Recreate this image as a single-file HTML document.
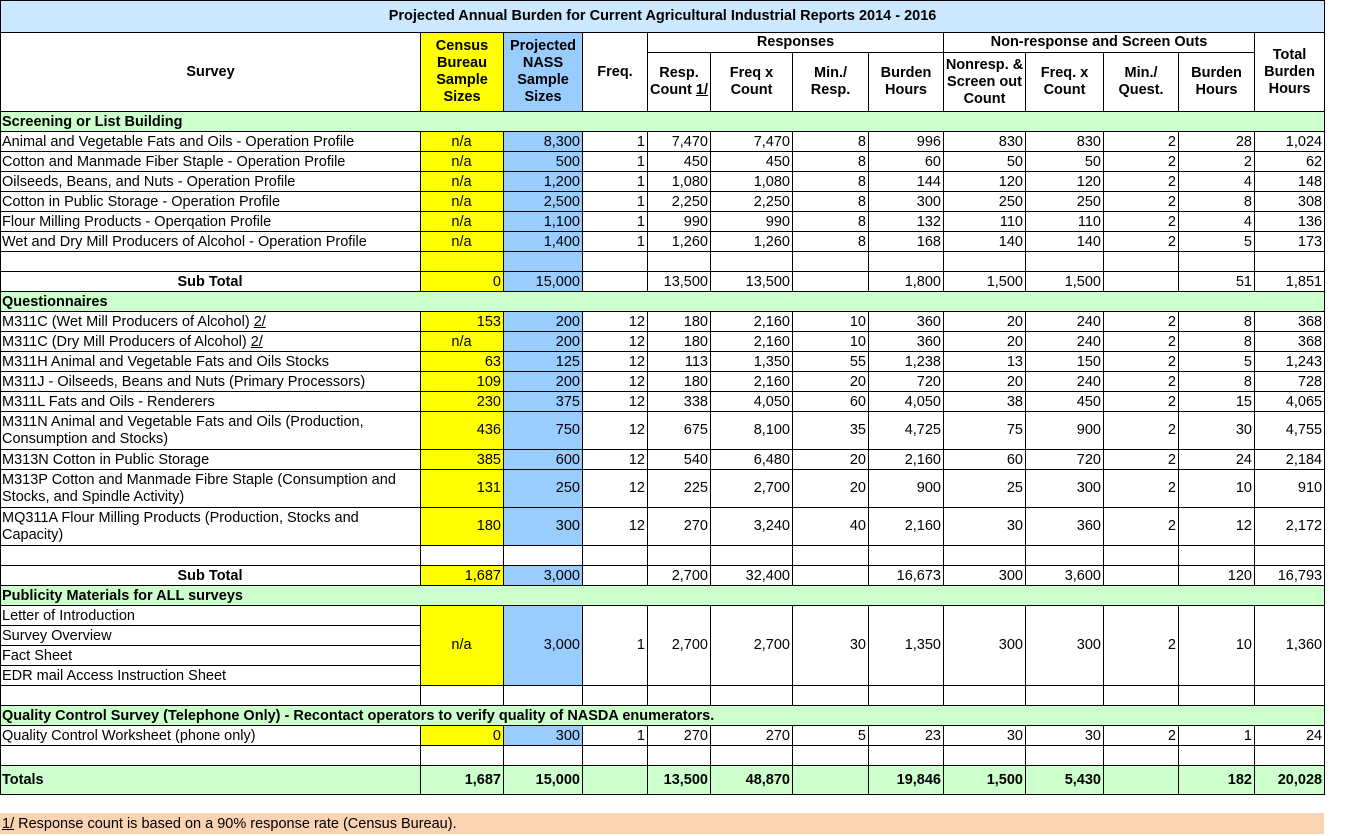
<!DOCTYPE html><html><head><style>
body{margin:0;background:#fff;font-family:"Liberation Sans",sans-serif;font-size:14.5px;}
table{position:absolute;left:0;top:0;border-collapse:collapse;table-layout:fixed;width:1324px;}
td{border:1px solid #000;padding:0 2px 0 1px;text-align:right;white-space:nowrap;overflow:hidden;line-height:17px;vertical-align:bottom}
td.l{text-align:left;white-space:normal}
td.c{text-align:center}
td[rowspan]{vertical-align:middle}
.m td{vertical-align:middle}
.y{background:#ffff00}.b{background:#99ccff}
.h td{font-weight:bold;text-align:center;white-space:normal;padding:0 3px;vertical-align:middle}
.s td{background:#ccffcc;font-weight:bold;text-align:left;border-left:none;border-right:none}
.s td:first-child{border-left:1px solid #000}.s td:last-child{border-right:1px solid #000}
tr{height:20px}
.t td{background:#ccffcc;font-weight:bold;vertical-align:middle}
.foot{position:absolute;left:0;top:813px;width:1324px;height:21px;background:#fad3b3;font-size:14.5px;line-height:22px;padding-left:2px;box-sizing:border-box}
</style></head><body>
<table>
<colgroup><col style="width:420px"><col style="width:83px"><col style="width:79px"><col style="width:65px"><col style="width:63px"><col style="width:82px"><col style="width:76px"><col style="width:75px"><col style="width:82px"><col style="width:78px"><col style="width:75px"><col style="width:76px"><col style="width:70px"></colgroup>
<tr class="h" style="height:32px"><td colspan="13" style="background:#cce8ff">Projected Annual Burden for Current Agricultural Industrial Reports 2014 - 2016</td></tr>
<tr class="h" style="height:20px"><td rowspan="2">Survey</td><td rowspan="2" class="y">Census Bureau Sample Sizes</td><td rowspan="2" class="b">Projected NASS Sample Sizes</td><td rowspan="2">Freq.</td><td colspan="4">Responses</td><td colspan="4">Non-response and Screen Outs</td><td rowspan="2">Total Burden Hours</td></tr>
<tr class="h" style="height:59px"><td style="padding:0">Resp. Count <u>1/</u></td><td>Freq x Count</td><td style="padding:0 12px">Min./ Resp.</td><td>Burden Hours</td><td style="padding:0">Nonresp. &amp; Screen out Count</td><td>Freq. x Count</td><td style="padding:0 12px">Min./ Quest.</td><td>Burden Hours</td></tr>
<tr class="s"><td colspan="13">Screening or List Building</td></tr>
<tr><td class="l">Animal and Vegetable Fats and Oils - Operation Profile</td><td class="y c">n/a</td><td class="b">8,300</td><td>1</td><td>7,470</td><td>7,470</td><td>8</td><td>996</td><td>830</td><td>830</td><td>2</td><td>28</td><td>1,024</td></tr>
<tr><td class="l">Cotton and Manmade Fiber Staple - Operation Profile</td><td class="y c">n/a</td><td class="b">500</td><td>1</td><td>450</td><td>450</td><td>8</td><td>60</td><td>50</td><td>50</td><td>2</td><td>2</td><td>62</td></tr>
<tr><td class="l">Oilseeds, Beans, and Nuts - Operation Profile</td><td class="y c">n/a</td><td class="b">1,200</td><td>1</td><td>1,080</td><td>1,080</td><td>8</td><td>144</td><td>120</td><td>120</td><td>2</td><td>4</td><td>148</td></tr>
<tr><td class="l">Cotton in Public Storage - Operation Profile</td><td class="y c">n/a</td><td class="b">2,500</td><td>1</td><td>2,250</td><td>2,250</td><td>8</td><td>300</td><td>250</td><td>250</td><td>2</td><td>8</td><td>308</td></tr>
<tr><td class="l">Flour Milling Products - Operqation Profile</td><td class="y c">n/a</td><td class="b">1,100</td><td>1</td><td>990</td><td>990</td><td>8</td><td>132</td><td>110</td><td>110</td><td>2</td><td>4</td><td>136</td></tr>
<tr><td class="l">Wet and Dry Mill Producers of Alcohol - Operation Profile</td><td class="y c">n/a</td><td class="b">1,400</td><td>1</td><td>1,260</td><td>1,260</td><td>8</td><td>168</td><td>140</td><td>140</td><td>2</td><td>5</td><td>173</td></tr>
<tr><td></td><td class="y"></td><td class="b"></td><td></td><td></td><td></td><td></td><td></td><td></td><td></td><td></td><td></td><td></td></tr>
<tr><td class="c"><b>Sub Total</b></td><td class="y">0</td><td class="b">15,000</td><td></td><td>13,500</td><td>13,500</td><td></td><td>1,800</td><td>1,500</td><td>1,500</td><td></td><td>51</td><td>1,851</td></tr>
<tr class="s"><td colspan="13">Questionnaires</td></tr>
<tr><td class="l">M311C (Wet Mill Producers of Alcohol) <u>2/</u></td><td class="y">153</td><td class="b">200</td><td>12</td><td>180</td><td>2,160</td><td>10</td><td>360</td><td>20</td><td>240</td><td>2</td><td>8</td><td>368</td></tr>
<tr><td class="l">M311C (Dry Mill Producers of Alcohol) <u>2/</u></td><td class="y c">n/a</td><td class="b">200</td><td>12</td><td>180</td><td>2,160</td><td>10</td><td>360</td><td>20</td><td>240</td><td>2</td><td>8</td><td>368</td></tr>
<tr><td class="l">M311H Animal and Vegetable Fats and Oils Stocks</td><td class="y">63</td><td class="b">125</td><td>12</td><td>113</td><td>1,350</td><td>55</td><td>1,238</td><td>13</td><td>150</td><td>2</td><td>5</td><td>1,243</td></tr>
<tr><td class="l">M311J - Oilseeds, Beans and Nuts (Primary Processors)</td><td class="y">109</td><td class="b">200</td><td>12</td><td>180</td><td>2,160</td><td>20</td><td>720</td><td>20</td><td>240</td><td>2</td><td>8</td><td>728</td></tr>
<tr><td class="l">M311L Fats and Oils - Renderers</td><td class="y">230</td><td class="b">375</td><td>12</td><td>338</td><td>4,050</td><td>60</td><td>4,050</td><td>38</td><td>450</td><td>2</td><td>15</td><td>4,065</td></tr>
<tr class="m" style="height:38px"><td class="l">M311N Animal and Vegetable Fats and Oils (Production, Consumption and Stocks)</td><td class="y">436</td><td class="b">750</td><td>12</td><td>675</td><td>8,100</td><td>35</td><td>4,725</td><td>75</td><td>900</td><td>2</td><td>30</td><td>4,755</td></tr>
<tr><td class="l">M313N Cotton in Public Storage</td><td class="y">385</td><td class="b">600</td><td>12</td><td>540</td><td>6,480</td><td>20</td><td>2,160</td><td>60</td><td>720</td><td>2</td><td>24</td><td>2,184</td></tr>
<tr class="m" style="height:38px"><td class="l">M313P Cotton and Manmade Fibre Staple (Consumption and Stocks, and Spindle Activity)</td><td class="y">131</td><td class="b">250</td><td>12</td><td>225</td><td>2,700</td><td>20</td><td>900</td><td>25</td><td>300</td><td>2</td><td>10</td><td>910</td></tr>
<tr class="m" style="height:38px"><td class="l">MQ311A Flour Milling Products (Production, Stocks and Capacity)</td><td class="y">180</td><td class="b">300</td><td>12</td><td>270</td><td>3,240</td><td>40</td><td>2,160</td><td>30</td><td>360</td><td>2</td><td>12</td><td>2,172</td></tr>
<tr><td></td><td></td><td></td><td></td><td></td><td></td><td></td><td></td><td></td><td></td><td></td><td></td><td></td></tr>
<tr><td class="c"><b>Sub Total</b></td><td class="y">1,687</td><td class="b">3,000</td><td></td><td>2,700</td><td>32,400</td><td></td><td>16,673</td><td>300</td><td>3,600</td><td></td><td>120</td><td>16,793</td></tr>
<tr class="s"><td colspan="13">Publicity Materials for ALL surveys</td></tr>
<tr><td class="l">Letter of Introduction</td><td rowspan="4" class="y c">n/a</td><td rowspan="4" class="b">3,000</td><td rowspan="4">1</td><td rowspan="4">2,700</td><td rowspan="4">2,700</td><td rowspan="4">30</td><td rowspan="4">1,350</td><td rowspan="4">300</td><td rowspan="4">300</td><td rowspan="4">2</td><td rowspan="4">10</td><td rowspan="4">1,360</td></tr>
<tr><td class="l">Survey Overview</td></tr>
<tr><td class="l">Fact Sheet</td></tr>
<tr><td class="l">EDR mail Access Instruction Sheet</td></tr>
<tr><td></td><td></td><td></td><td></td><td></td><td></td><td></td><td></td><td></td><td></td><td></td><td></td><td></td></tr>
<tr class="s"><td colspan="13">Quality Control Survey (Telephone Only) - Recontact operators to verify quality of NASDA enumerators.</td></tr>
<tr><td class="l">Quality Control Worksheet (phone only)</td><td class="y">0</td><td class="b">300</td><td>1</td><td>270</td><td>270</td><td>5</td><td>23</td><td>30</td><td>30</td><td>2</td><td>1</td><td>24</td></tr>
<tr><td></td><td></td><td></td><td></td><td></td><td></td><td></td><td></td><td></td><td></td><td></td><td></td><td></td></tr>
<tr class="t" style="height:29px"><td class="l">Totals</td><td>1,687</td><td>15,000</td><td></td><td>13,500</td><td>48,870</td><td></td><td>19,846</td><td>1,500</td><td>5,430</td><td></td><td>182</td><td>20,028</td></tr>
</table>
<div class="foot"><u>1/</u> Response count is based on a 90% response rate (Census Bureau).</div>
</body></html>
